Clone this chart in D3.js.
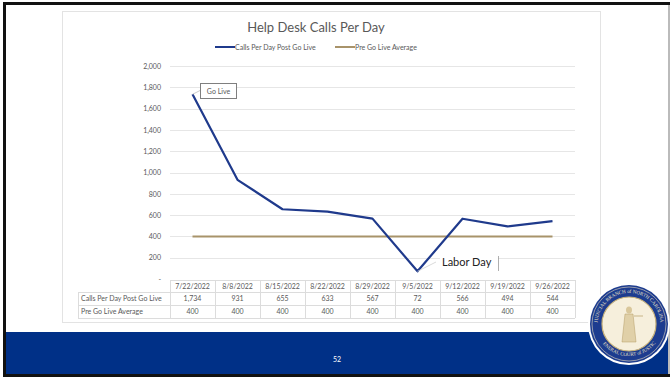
<!DOCTYPE html>
<html>
<head>
<meta charset="utf-8">
<script src="https://cdn.jsdelivr.net/npm/d3@7"></script>
<style>
  html, body { margin: 0; padding: 0; background: #fff; }
  svg { display: block; font-family: Lato, "Open Sans", sans-serif; }
</style>
</head>
<body>
<svg id="chart" width="670" height="377"></svg>
<script>
const dates = ['7/22/2022', '8/8/2022', '8/15/2022', '8/22/2022', '8/29/2022', '9/5/2022', '9/12/2022', '9/19/2022', '9/26/2022'];
const calls = [1734, 931, 655, 633, 567, 72, 566, 494, 544];
const preAverage = [400, 400, 400, 400, 400, 400, 400, 400, 400];
const yTicks = [0, 200, 400, 600, 800, 1000, 1200, 1400, 1600, 1800, 2000];
const seriesNames = ['Calls Per Day Post Go Live', 'Pre Go Live Average'];

const navy = '#1f3a8c';
const tan = '#a8936a';
const grey = '#595959';

const svg = d3.select('#chart');

// slide frame
svg.append('rect').attr('x', 0).attr('y', 0).attr('width', 670).attr('height', 377).attr('fill', '#fff');
svg.append('rect').attr('x', 6).attr('y', 332).attr('width', 664).attr('height', 42).attr('fill', '#003087');
svg.append('rect').attr('x', 3).attr('y', 2).attr('width', 667).attr('height', 3).attr('fill', '#111');
svg.append('rect').attr('x', 3).attr('y', 2).attr('width', 3).attr('height', 375).attr('fill', '#111');
svg.append('rect').attr('x', 3).attr('y', 374).attr('width', 667).attr('height', 3).attr('fill', '#111');
svg.append('rect').attr('x', 668).attr('y', 5).attr('width', 2).attr('height', 369).attr('fill', '#bbb');

svg.append('text').attr('x', 337).attr('y', 362).attr('text-anchor', 'middle')
  .attr('fill', '#fff').attr('font-size', 7).text('52');

// chart box
svg.append('rect').attr('x', 62.5).attr('y', 11.5).attr('width', 538).attr('height', 311)
  .attr('fill', '#fff').attr('stroke', '#e3e3e3');

svg.append('text').attr('x', 316).attr('y', 32).attr('text-anchor', 'middle')
  .attr('fill', grey).attr('font-size', 13).text('Help Desk Calls Per Day');

// legend
const legend = svg.append('g').attr('font-size', 7).attr('fill', grey);
[[215, navy, seriesNames[0]], [335, tan, seriesNames[1]]].forEach(([lx, c, label]) => {
  legend.append('line').attr('x1', lx).attr('x2', lx + 20).attr('y1', 47).attr('y2', 47)
    .attr('stroke', c).attr('stroke-width', 2);
  legend.append('text').attr('x', lx + 20).attr('y', 49.5).text(label);
});

// scales
const x = d3.scaleBand().domain(dates).range([170, 575]);
const y = d3.scaleLinear().domain([0, 2000]).range([279, 66]);

// grid
svg.append('g').selectAll('line').data(yTicks.filter(d => d > 0)).join('line')
  .attr('x1', 170).attr('x2', 575)
  .attr('y1', d => Math.round(y(d)) + 0.5).attr('y2', d => Math.round(y(d)) + 0.5)
  .attr('stroke', '#e6e6e6');

const yAxis = d3.axisLeft(y).tickValues(yTicks).tickSize(0).tickPadding(9)
  .tickFormat(d => d === 0 ? '-' : d3.format(',')(d));
svg.append('g').attr('transform', 'translate(170,0)').call(yAxis)
  .call(g => g.select('.domain').remove())
  .call(g => g.selectAll('text').attr('fill', grey).attr('font-size', 7).attr('font-family', 'Lato, sans-serif'));

// lines
const cx = d => x(d) + x.bandwidth() / 2;
const line = d3.line().x(d => cx(d.date)).y(d => y(d.v));
svg.append('path').datum(dates.map((d, i) => ({ date: d, v: preAverage[i] })))
  .attr('d', line).attr('fill', 'none').attr('stroke', tan).attr('stroke-width', 2);
svg.append('path').datum(dates.map((d, i) => ({ date: d, v: calls[i] })))
  .attr('d', line).attr('fill', 'none').attr('stroke', navy).attr('stroke-width', 2.2)
  .attr('stroke-linejoin', 'round');

// data table
const rowLabelX = 78;
const rowTops = [280, 292, 305, 318];
const table = svg.append('g').attr('font-size', 7).attr('fill', grey);
const tStroke = '#dcdcdc';
// horizontal rules
table.append('line').attr('x1', 170).attr('x2', 575).attr('y1', rowTops[0] + 0.5).attr('y2', rowTops[0] + 0.5).attr('stroke', tStroke);
rowTops.slice(1).forEach(ty => {
  table.append('line').attr('x1', rowLabelX).attr('x2', 575).attr('y1', ty + 0.5).attr('y2', ty + 0.5).attr('stroke', tStroke);
});
// vertical rules
dates.forEach(d => {
  table.append('line').attr('x1', x(d) + 0.5).attr('x2', x(d) + 0.5).attr('y1', rowTops[0]).attr('y2', rowTops[3]).attr('stroke', tStroke);
});
table.append('line').attr('x1', 575.5).attr('x2', 575.5).attr('y1', rowTops[0]).attr('y2', rowTops[3]).attr('stroke', tStroke);
table.append('line').attr('x1', rowLabelX + 0.5).attr('x2', rowLabelX + 0.5).attr('y1', rowTops[1]).attr('y2', rowTops[3]).attr('stroke', tStroke);

const cellY = i => (rowTops[i] + rowTops[i + 1]) / 2 + 2.5;
table.selectAll('.hdr').data(dates).join('text').attr('class', 'hdr')
  .attr('x', cx).attr('y', cellY(0)).attr('text-anchor', 'middle').text(d => d);
[calls, preAverage].forEach((vals, r) => {
  table.append('text').attr('x', rowLabelX + 3).attr('y', cellY(r + 1)).text(seriesNames[r]);
  table.selectAll('.r' + r).data(vals).join('text').attr('class', 'r' + r)
    .attr('x', (d, i) => cx(dates[i])).attr('y', cellY(r + 1)).attr('text-anchor', 'middle')
    .text(d => d3.format(',')(d));
});

// annotations
const p0 = [cx(dates[0]), y(calls[0])];
svg.append('line').attr('x1', p0[0]).attr('y1', p0[1]).attr('x2', 201).attr('y2', 90)
  .attr('stroke', '#bfbfbf').attr('stroke-width', 0.8);
svg.append('rect').attr('x', 200.5).attr('y', 83.5).attr('width', 36).attr('height', 15)
  .attr('fill', '#fff').attr('stroke', '#7f7f7f');
svg.append('text').attr('x', 218.5).attr('y', 94).attr('text-anchor', 'middle')
  .attr('font-size', 7).attr('fill', grey).text('Go Live');

const p5 = [cx(dates[5]), y(calls[5])];
svg.append('line').attr('x1', p5[0]).attr('y1', p5[1]).attr('x2', 436).attr('y2', 262)
  .attr('stroke', '#d0d0d0').attr('stroke-width', 0.8);
svg.append('rect').attr('x', 440).attr('y', 255).attr('width', 58).attr('height', 15).attr('fill', '#fff');
svg.append('text').attr('x', 442).attr('y', 266).attr('font-size', 11).attr('fill', '#222').text('Labor Day');
svg.append('line').attr('x1', 498.5).attr('x2', 498.5).attr('y1', 256).attr('y2', 271)
  .attr('stroke', '#9a9a9a').attr('stroke-width', 0.8);

// seal
const seal = svg.append('g').attr('transform', 'translate(629,324)');
seal.append('circle').attr('r', 41).attr('fill', '#fff');
seal.append('circle').attr('r', 39).attr('fill', '#1d3c8f');
seal.append('circle').attr('r', 37).attr('fill', 'none').attr('stroke', '#e8dcc0').attr('stroke-width', 0.6);
seal.append('circle').attr('r', 27).attr('fill', '#f6efdc').attr('stroke', '#c8b27a').attr('stroke-width', 1.2);
seal.append('path').attr('id', 'sealTop').attr('d', 'M -30 10 A 31.5 31.5 0 1 1 30 10').attr('fill', 'none');
seal.append('text').attr('font-size', 5).attr('fill', '#eee3c8').attr('font-family', 'Liberation Serif, serif')
  .append('textPath').attr('href', '#sealTop').attr('startOffset', '50%').attr('text-anchor', 'middle')
  .text('JUDICIAL BRANCH of NORTH CAROLINA');
seal.append('path').attr('id', 'sealBot').attr('d', 'M -26 20 A 34 34 0 0 0 26 20').attr('fill', 'none');
seal.append('text').attr('font-size', 5).attr('fill', '#eee3c8').attr('font-family', 'Liberation Serif, serif')
  .append('textPath').attr('href', '#sealBot').attr('startOffset', '50%').attr('text-anchor', 'middle')
  .text('GENERAL COURT of JUSTICE');
// figure in the middle
seal.append('ellipse').attr('cx', 0).attr('cy', -14).attr('rx', 3).attr('ry', 3.5).attr('fill', '#d9c79b');
seal.append('path').attr('d', 'M -4 -10 L 4 -10 L 7 18 L -7 18 Z').attr('fill', '#e0d0a8').attr('stroke', '#b59d66').attr('stroke-width', 0.5);
seal.append('line').attr('x1', 5).attr('x2', 14).attr('y1', -8).attr('y2', -8).attr('stroke', '#b59d66').attr('stroke-width', 0.7);
</script>
</body>
</html>
